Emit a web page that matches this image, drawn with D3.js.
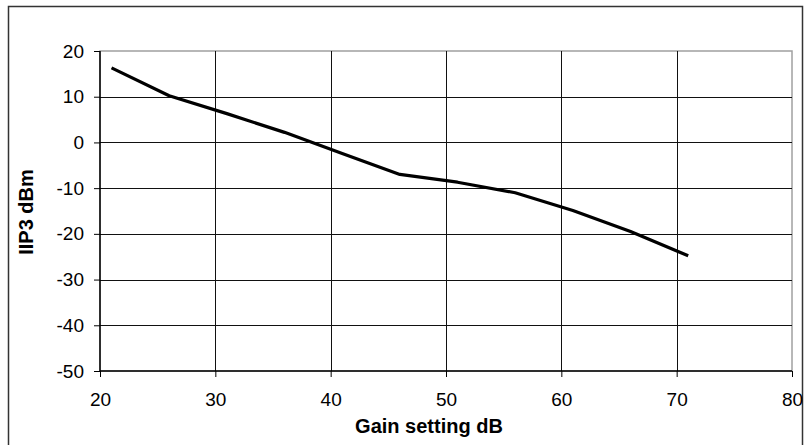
<!DOCTYPE html>
<html>
<head>
<meta charset="utf-8">
<script src="https://cdn.jsdelivr.net/npm/d3@7"></script>
<style>
  body { margin: 0; background: #fff; }
  svg { display: block; }
  text { font-family: "Liberation Sans", Arial, sans-serif; fill: #000; }
</style>
</head>
<body>
<svg id="chart" width="811" height="445"></svg>
<script>
// gain setting (dB) vs IIP3 (dBm)
var gain = [21, 26, 31, 36, 41, 46, 51, 56, 61, 66, 71];
var iip3 = [16.3, 10.2, 6.3, 2.2, -2.4, -7.0, -8.7, -11.0, -14.9, -19.5, -24.8];
var xTicks = [20, 30, 40, 50, 60, 70, 80];
var yTicks = [20, 10, 0, -10, -20, -30, -40, -50];

var svg = d3.select("#chart");
var pLeft = 100, pRight = 792, pTop = 51, pBottom = 371;

var x = d3.scaleLinear().domain([20, 80]).range([pLeft, pRight]);
var y = d3.scaleLinear().domain([-50, 20]).range([pBottom, pTop]);

// outer frame
svg.append("rect")
    .attr("x", 8.5).attr("y", 6.5)
    .attr("width", 794).attr("height", 450)
    .attr("fill", "none").attr("stroke", "#333").attr("stroke-width", 1.5);

// plot frame (top and right in grey)
svg.append("rect")
    .attr("x", pLeft).attr("y", pTop)
    .attr("width", pRight - pLeft).attr("height", pBottom - pTop)
    .attr("fill", "none").attr("stroke", "#a0a0a0").attr("stroke-width", 1.5);

// grid
svg.append("g").selectAll("line").data(xTicks.slice(1, -1)).join("line")
    .attr("x1", d => Math.round(x(d)) + 0.5).attr("x2", d => Math.round(x(d)) + 0.5)
    .attr("y1", pTop).attr("y2", pBottom)
    .attr("stroke", "#111").attr("stroke-width", 1);
svg.append("g").selectAll("line").data(yTicks.slice(1, -1)).join("line")
    .attr("x1", pLeft).attr("x2", pRight)
    .attr("y1", d => Math.round(y(d)) + 0.5).attr("y2", d => Math.round(y(d)) + 0.5)
    .attr("stroke", "#111").attr("stroke-width", 1);

// axes (plain hyphen for negatives, like the original)
var xAxis = svg.append("g")
    .attr("transform", "translate(0," + pBottom + ")")
    .call(d3.axisBottom(x).tickValues(xTicks).tickSize(6).tickPadding(16).tickFormat(d => String(d)));
var yAxis = svg.append("g")
    .attr("transform", "translate(" + pLeft + ",0)")
    .call(d3.axisLeft(y).tickValues(yTicks).tickSize(6).tickPadding(10).tickFormat(d => String(d)));

[xAxis, yAxis].forEach(function(g) {
  g.select(".domain").attr("stroke", "#000").attr("stroke-width", 1.5);
  g.selectAll(".tick line").attr("stroke", "#000");
  g.selectAll(".tick text")
      .attr("font-family", "Liberation Sans, Arial, sans-serif")
      .attr("font-size", 19).attr("fill", "#000");
});
xAxis.select(".domain").attr("d", "M" + pLeft + ",0H" + pRight);
yAxis.select(".domain").attr("d", "M0," + pTop + "V" + pBottom);

// the data line
var line = d3.line().x((d, i) => x(gain[i])).y(d => y(d));
svg.append("path")
    .datum(iip3)
    .attr("d", line)
    .attr("fill", "none")
    .attr("stroke", "#000")
    .attr("stroke-width", 3.2)
    .attr("stroke-linejoin", "round");

// axis titles
svg.append("text")
    .attr("x", 429).attr("y", 433)
    .attr("text-anchor", "middle")
    .attr("font-weight", "bold").attr("font-size", 20)
    .text("Gain setting dB");
svg.append("text")
    .attr("transform", "translate(33,212) rotate(-90)")
    .attr("text-anchor", "middle")
    .attr("font-weight", "bold").attr("font-size", 20)
    .text("IIP3 dBm");
</script>
</body>
</html>
